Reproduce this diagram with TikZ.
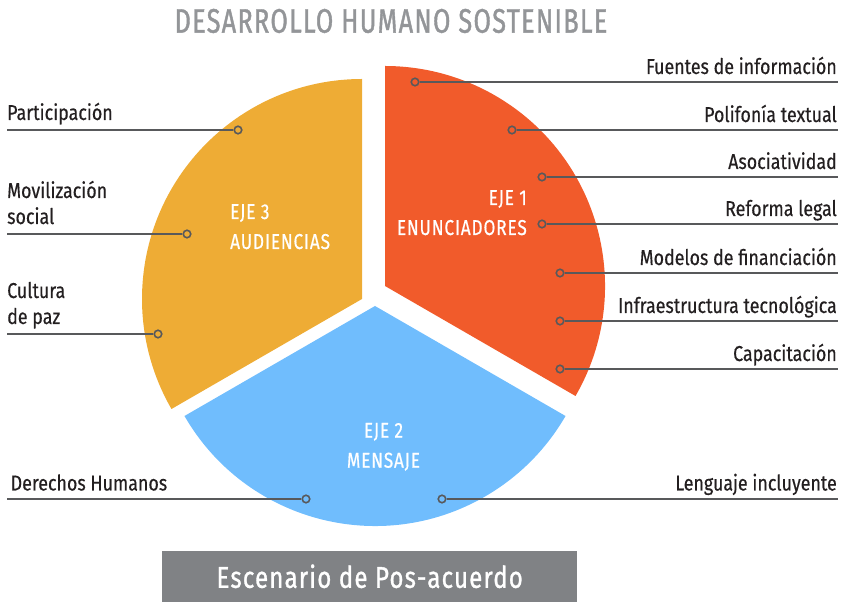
\documentclass[tikz,border=0pt]{standalone}
\usepackage{fontspec}
\setmainfont{Fira Sans}[FakeStretch=0.83, FakeBold=0.4]
\newfontfamily\titlefont{Fira Sans}[FakeStretch=0.74, LetterSpace=4, FakeBold=1.2]
\newfontfamily\boxfont{Fira Sans}[FakeStretch=0.8, LetterSpace=4, FakeBold=1]
\newfontfamily\ejefont{Fira Sans}[FakeStretch=0.8, LetterSpace=4, FakeBold=0.6]
\usepackage{xcolor}
\usepackage{tikz}
\usetikzlibrary{positioning,calc}

\definecolor{ejeorange}{HTML}{F15B2B}
\definecolor{ejeyellow}{HTML}{EEAC35}
\definecolor{ejeblue}{HTML}{70BDFD}
\definecolor{linegray}{HTML}{58595B}
\definecolor{titlegray}{HTML}{939598}
\definecolor{boxgray}{HTML}{808285}
\definecolor{textdark}{HTML}{231F20}

\tikzset{
    dot/.style={circle, draw=linegray, line width=1.6pt, inner sep=0pt, minimum size=7.5pt},
    leader/.style={draw=linegray, line width=1.6pt},
    itemlabel/.style={font=\fontsize{21.5}{26}\selectfont, text=textdark, inner sep=0pt},
    ejelabel/.style={font=\ejefont\fontsize{21.5}{30}\selectfont, text=white, inner sep=0pt}
}

\begin{document}
\begin{tikzpicture}[x=1pt, y=1pt]
    \useasboundingbox (0,0) rectangle (843,602);

    % Sectors
    \fill[ejeorange] (385,316) -- ++(-30:220) arc[start angle=-30, end angle=90, radius=220] -- cycle;
    \fill[ejeyellow] (362,303) -- ++(90:220) arc[start angle=90, end angle=210, radius=220] -- cycle;
    \fill[ejeblue] (375,296) -- ++(210:220) arc[start angle=210, end angle=330, radius=220] -- cycle;

    % Title
    \node[font=\titlefont\fontsize{34}{34}\selectfont, text=titlegray, inner sep=0pt, anchor=base] (title) at (391,569.3) {DESARROLLO HUMANO SOSTENIBLE};

    % Axis labels
    \node[ejelabel, align=right, anchor=base east] (eje1) at (527,367) {EJE 1\\ENUNCIADORES};
    \node[ejelabel, align=center, anchor=base] (eje2) at (383.5,134.3) {EJE 2\\MENSAJE};
    \node[ejelabel, align=left, anchor=base west] (eje3) at (230,353) {EJE 3\\AUDIENCIAS};

    % Right items (Eje 1)
    \foreach \dx/\ly/\txt [count=\i] in {415/520/Fuentes de información, 512/472/Polifonía textual,
        542/425/Asociatividad, 542/378/Reforma legal, 560/329/Modelos de financiación,
        560/281/Infraestructura tecnológica, 560/233/Capacitación} {
        \node[dot] (r\i) at (\dx,\ly) {};
        \coordinate (re\i) at (838,\ly);
        \draw[leader] (r\i) -- (re\i);
        \node[itemlabel, anchor=base east] (rl\i) at (837,\ly+8) {\txt};
    }

    % Left items (Eje 3)
    \foreach \dx/\ly/\txt [count=\i] in {238/472/Participación, 187/368/{Movilización\\social},
        158/268/{Cultura\\de paz}} {
        \node[dot] (l\i) at (\dx,\ly) {};
        \coordinate (le\i) at (7,\ly);
        \draw[leader] (l\i) -- (le\i);
        \node[itemlabel, align=left, anchor=base west] (ll\i) at (7,\ly+10) {\txt};
    }

    % Bottom items (Eje 2)
    \node[dot] (b1) at (306,103) {};
    \coordinate (be1) at (7,103);
    \draw[leader] (b1) -- (be1);
    \node[itemlabel, anchor=base west] (bl1) at (10.5,111.5) {Derechos Humanos};
    \node[dot] (b2) at (442,103) {};
    \coordinate (be2) at (838,103);
    \draw[leader] (b2) -- (be2);
    \node[itemlabel, anchor=base east] (bl2) at (837,111.5) {Lenguaje incluyente};

    % Scenario box
    \node[fill=boxgray, text=white, inner sep=0pt, minimum width=415pt, minimum height=51pt,
        anchor=south west, font=\boxfont\fontsize{30}{30}\selectfont] (scenario) at (162,0) {Escenario de Pos-acuerdo};
\end{tikzpicture}
\end{document}
